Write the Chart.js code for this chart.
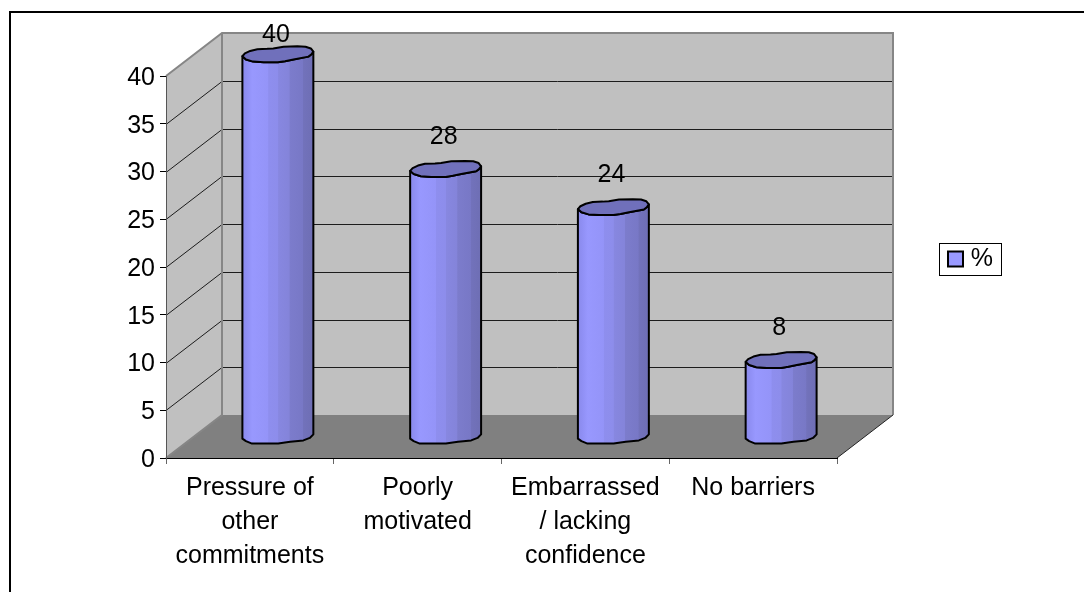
<!DOCTYPE html>
<html>
<head>
<meta charset="utf-8">
<style>html,body{margin:0;padding:0;background:#fff}canvas{display:block}</style>
<script src="https://cdn.jsdelivr.net/npm/chart.js@4/dist/chart.umd.js"></script>
</head>
<body>
<canvas id="c" width="1084" height="592"></canvas>
<script>
const categories = [["Pressure of","other","commitments"],["Poorly","motivated"],["Embarrassed","/ lacking","confidence"],["No barriers"]];
const values = [40, 28, 24, 8];
const seriesName = "%";
const yMax = 40;
const yStep = 5;

const FONT = '"Liberation Sans", Arial, sans-serif';
const DX = 56, DY = 43;
const LEGEND_BOX = {left: 939, top: 243, width: 62, height: 32};
const topBack = [[-1,.05],[-.93,-.03],[-.78,-.1],[-.58,-.15],[-.3,-.16],[-.13,-.17],[.16,-.22],[.55,-.23],[.78,-.22],[.93,-.17],[1,-.08]];
const topFront = [[1,-.08],[.94,0],[.86,.06],[.44,.14],[.2,.19],[0,.22],[-.4,.22],[-.7,.2],[-.9,.14],[-1,.05]];
const bottomOutline = [[-1,.06],[-.9,.13],[-.73,.2],[.01,.2],[.2,.17],[.35,.15],[.72,.11],[.9,.04],[1,-.06]];
const shades = [[0,'#8a8aea'],[.06,'#8f8ff4'],[.14,'#9898fe'],[.36,'#9494f8'],[.37,'#8e8eee'],[.5,'#8d8deb'],[.51,'#8787e0'],[.66,'#8484da'],[.67,'#7c7ccc'],[.85,'#7878c6'],[.86,'#7272bb'],[1,'#6e6eb4']];

const scene = {
  id: 'scene',
  afterLayout(chart) {
    const l = chart.legend, b = LEGEND_BOX;
    l.left = b.left; l.right = 993; l.top = b.top; l.bottom = b.top + b.height; l.width = b.width; l.height = b.height;
  },
  beforeDraw(chart) {
    const {ctx, scales:{x, y}} = chart;
    const L = x.left, R = x.right, B = y.bottom, T = y.top;
    ctx.save();
    ctx.fillStyle = '#c0c0c0';
    ctx.beginPath();
    ctx.moveTo(L,B); ctx.lineTo(L,T); ctx.lineTo(L+DX,T-DY); ctx.lineTo(R+DX,T-DY); ctx.lineTo(R+DX,B-DY); ctx.lineTo(L+DX,B-DY); ctx.closePath();
    ctx.fill();
    ctx.fillStyle = '#808080';
    ctx.beginPath();
    ctx.moveTo(L,B); ctx.lineTo(L+DX,B-DY); ctx.lineTo(R+DX,B-DY); ctx.lineTo(R,B); ctx.closePath();
    ctx.fill();
    ctx.strokeStyle = '#1c1c1c'; ctx.lineWidth = 1;
    y.ticks.forEach(t => {
      if (t.value === 0 || t.value === yMax) return;
      const p = Math.round(y.getPixelForValue(t.value));
      ctx.beginPath(); ctx.moveTo(L,p+.5); ctx.lineTo(L+DX,p-DY+.5); ctx.lineTo(R+DX,p-DY+.5); ctx.stroke();
    });
    ctx.strokeStyle = '#868686'; ctx.lineWidth = 2;
    ctx.beginPath();
    ctx.moveTo(L,T); ctx.lineTo(L+DX,T-DY); ctx.lineTo(R+DX,T-DY); ctx.lineTo(R+DX,B-DY);
    ctx.moveTo(L+DX,T-DY); ctx.lineTo(L+DX,B-DY); ctx.lineTo(L,B);
    ctx.stroke();
    ctx.strokeStyle = '#222'; ctx.lineWidth = 1;
    ctx.beginPath(); ctx.moveTo(R,B); ctx.lineTo(R+DX,B-DY); ctx.stroke();
    ctx.restore();
  },
  beforeDatasetDraw(chart, args) {
    const {ctx} = chart;
    const B = chart.scales.y.bottom;
    args.meta.data.forEach((bar, i) => {
      const hw = bar.width / 2;
      const cx = bar.x + DX / 2;
      const top = bar.y - DY / 2;
      const base = B - DY / 2;
      const g = ctx.createLinearGradient(cx - hw, 0, cx + hw, 0);
      shades.forEach(s => g.addColorStop(s[0], s[1]));
      ctx.save();
      ctx.lineJoin = 'round';
      ctx.strokeStyle = '#000';
      ctx.lineWidth = 2;
      ctx.beginPath();
      bottomOutline.forEach((p, k) => {
        const px = cx + p[0]*hw, py = base + p[1]*hw;
        k ? ctx.lineTo(px, py) : ctx.moveTo(px, py);
      });
      topFront.forEach(p => ctx.lineTo(cx + p[0]*hw, top + p[1]*hw));
      ctx.closePath();
      ctx.fillStyle = g; ctx.fill(); ctx.stroke();
      ctx.beginPath();
      topBack.concat(topFront.slice(1, -1)).forEach((p, k) => {
        const px = cx + p[0]*hw, py = top + p[1]*hw;
        k ? ctx.lineTo(px, py) : ctx.moveTo(px, py);
      });
      ctx.closePath();
      ctx.fillStyle = '#7070bb'; ctx.fill(); ctx.stroke();
      ctx.fillStyle = '#000';
      ctx.font = '25px ' + FONT;
      ctx.textAlign = 'center'; ctx.textBaseline = 'middle';
      ctx.fillText(String(values[i]), cx - 2, Math.max(35.5, top - 32));
      ctx.restore();
    });
    return false;
  },
  afterDraw(chart) {
    const {ctx} = chart, b = LEGEND_BOX;
    ctx.save();
    ctx.strokeStyle = '#000';
    ctx.lineWidth = 1;
    ctx.strokeRect(b.left + .5, b.top + .5, b.width, b.height);
    ctx.lineWidth = 2;
    ctx.beginPath();
    ctx.moveTo(10, 592); ctx.lineTo(10, 12); ctx.lineTo(1084, 12);
    ctx.stroke();
    ctx.restore();
  }
};

new Chart(document.getElementById('c'), {
  type: 'bar',
  data: {
    labels: categories,
    datasets: [{
      label: seriesName,
      data: values,
      backgroundColor: '#9999ff',
      borderColor: '#000',
      borderWidth: 2,
      categoryPercentage: 1,
      barPercentage: 0.423
    }]
  },
  plugins: [scene],
  options: {
    responsive: false,
    animation: false,
    layout: {padding: {top: 76, right: 247, left: 0, bottom: 0}},
    plugins: {
      tooltip: {enabled: false},
      legend: {
        position: 'chartArea',
        labels: {boxWidth: 15, boxHeight: 15, padding: 9, color: '#000', textAlign: 'right', font: {size: 25, family: FONT}}
      }
    },
    scales: {
      x: {
        afterFit(s) { s.height = 134; },
        border: {color: '#000', width: 1},
        grid: {drawOnChartArea: false, drawTicks: true, tickLength: 6, color: '#666'},
        ticks: {color: '#000', padding: 7, maxRotation: 0, autoSkip: false, font: {size: 25, family: FONT, lineHeight: 1.36}}
      },
      y: {
        min: 0, max: yMax,
        afterFit(s) {
          s.width = 166;
          if (!s._shifted) {
            s._shifted = true;
            const orig = s._computeLabelItems;
            s._computeLabelItems = function (area) {
              const items = orig.call(this, area);
              items.forEach(it => { it.options.translation[1] += 2; });
              return items;
            };
          }
        },
        border: {color: '#555', width: 1},
        grid: {drawOnChartArea: false, drawTicks: true, tickLength: 6, color: '#000'},
        ticks: {stepSize: yStep, color: '#000', padding: 5, font: {size: 25, family: FONT}}
      }
    }
  }
});
</script>
</body>
</html>
